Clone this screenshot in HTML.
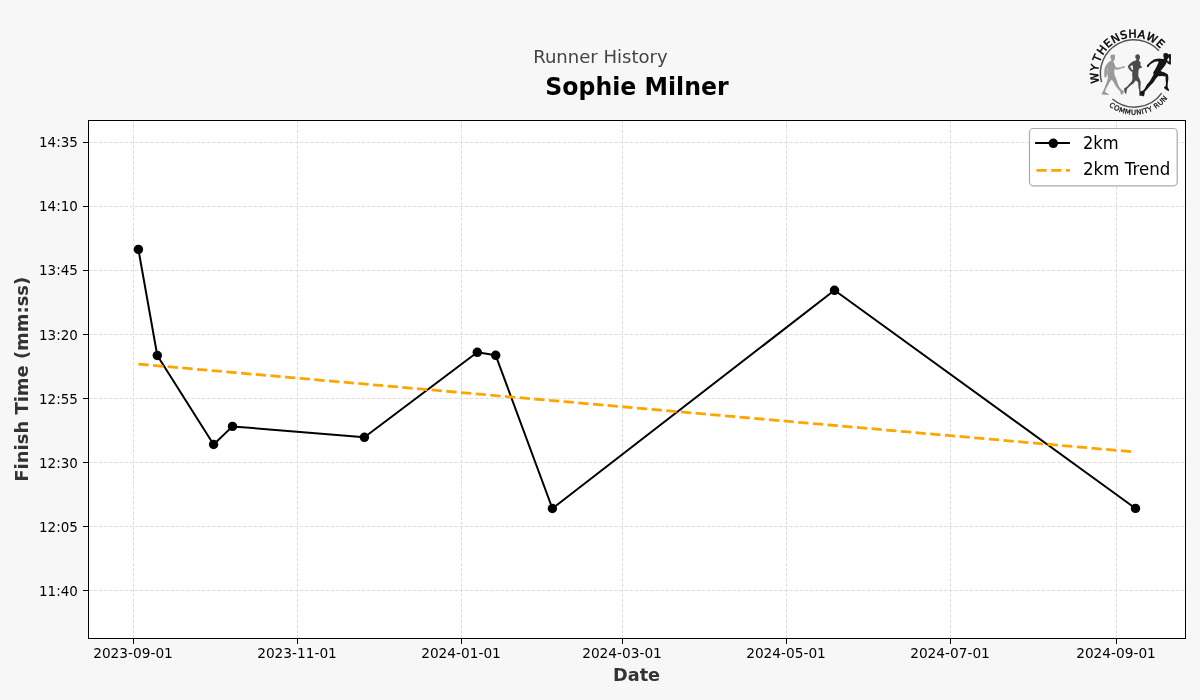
<!DOCTYPE html>
<html lang="en">
<head>
<meta charset="utf-8">
<title>Runner History - Sophie Milner</title>
<style>
html,body{margin:0;padding:0;background:#f7f7f7;}
body{width:1200px;height:700px;overflow:hidden;}
svg{display:block;}
text{font-family:"DejaVu Sans","Liberation Sans",sans-serif;}
.tick{font-size:13.89px;fill:#000;}
.b{font-weight:bold;}
</style>
</head>
<body>
<svg width="1200" height="700" viewBox="0 0 1200 700">
<rect x="0" y="0" width="1200" height="700" fill="#f7f7f7"/>
<rect x="88.5" y="120.5" width="1097.0" height="518.0" fill="#ffffff"/>
<g stroke="#dedede" stroke-width="1" stroke-dasharray="3.597 1.556" fill="none">
<line x1="133.5" y1="638.5" x2="133.5" y2="120.5"/>
<line x1="297.5" y1="638.5" x2="297.5" y2="120.5"/>
<line x1="461.5" y1="638.5" x2="461.5" y2="120.5"/>
<line x1="622.5" y1="638.5" x2="622.5" y2="120.5"/>
<line x1="786.5" y1="638.5" x2="786.5" y2="120.5"/>
<line x1="950.5" y1="638.5" x2="950.5" y2="120.5"/>
<line x1="1116.5" y1="638.5" x2="1116.5" y2="120.5"/>
<line x1="88.5" y1="142.5" x2="1185.5" y2="142.5"/>
<line x1="88.5" y1="206.5" x2="1185.5" y2="206.5"/>
<line x1="88.5" y1="270.5" x2="1185.5" y2="270.5"/>
<line x1="88.5" y1="334.5" x2="1185.5" y2="334.5"/>
<line x1="88.5" y1="398.5" x2="1185.5" y2="398.5"/>
<line x1="88.5" y1="462.5" x2="1185.5" y2="462.5"/>
<line x1="88.5" y1="526.5" x2="1185.5" y2="526.5"/>
<line x1="88.5" y1="590.5" x2="1185.5" y2="590.5"/>
</g>
<polyline fill="none" stroke="#000" stroke-width="2.0" stroke-linejoin="round" stroke-linecap="square" points="138.4,249.4 157.3,355.5 213.6,444.5 232.5,426.4 364.4,437.3 477.3,352.3 495.7,355.3 552.4,508.5 834.5,290.3 1135.5,508.4"/>
<g fill="#000">
<circle cx="138.4" cy="249.4" r="4.72"/>
<circle cx="157.3" cy="355.5" r="4.72"/>
<circle cx="213.6" cy="444.5" r="4.72"/>
<circle cx="232.5" cy="426.4" r="4.72"/>
<circle cx="364.4" cy="437.3" r="4.72"/>
<circle cx="477.3" cy="352.3" r="4.72"/>
<circle cx="495.7" cy="355.3" r="4.72"/>
<circle cx="552.4" cy="508.5" r="4.72"/>
<circle cx="834.5" cy="290.3" r="4.72"/>
<circle cx="1135.5" cy="508.4" r="4.72"/>
</g>
<line x1="138.4" y1="364.1" x2="1135.5" y2="452.0" stroke="#ffa500" stroke-width="2.78" stroke-dasharray="10.28 4.44"/>
<rect x="88.5" y="120.5" width="1097.0" height="518.0" fill="none" stroke="#000" stroke-width="1.1" shape-rendering="crispEdges"/>
<g stroke="#000" stroke-width="1.1" shape-rendering="crispEdges">
<line x1="133.5" y1="638.5" x2="133.5" y2="643.9"/>
<line x1="297.5" y1="638.5" x2="297.5" y2="643.9"/>
<line x1="461.5" y1="638.5" x2="461.5" y2="643.9"/>
<line x1="622.5" y1="638.5" x2="622.5" y2="643.9"/>
<line x1="786.5" y1="638.5" x2="786.5" y2="643.9"/>
<line x1="950.5" y1="638.5" x2="950.5" y2="643.9"/>
<line x1="1116.5" y1="638.5" x2="1116.5" y2="643.9"/>
<line x1="88.5" y1="142.5" x2="83.1" y2="142.5"/>
<line x1="88.5" y1="206.5" x2="83.1" y2="206.5"/>
<line x1="88.5" y1="270.5" x2="83.1" y2="270.5"/>
<line x1="88.5" y1="334.5" x2="83.1" y2="334.5"/>
<line x1="88.5" y1="398.5" x2="83.1" y2="398.5"/>
<line x1="88.5" y1="462.5" x2="83.1" y2="462.5"/>
<line x1="88.5" y1="526.5" x2="83.1" y2="526.5"/>
<line x1="88.5" y1="590.5" x2="83.1" y2="590.5"/>
</g>
<g class="tick">
<text transform="translate(133.0,657.8) scale(0.987,1)" text-anchor="middle">2023-09-01</text>
<text transform="translate(297.0,657.8) scale(0.987,1)" text-anchor="middle">2023-11-01</text>
<text transform="translate(461.0,657.8) scale(0.987,1)" text-anchor="middle">2024-01-01</text>
<text transform="translate(622.0,657.8) scale(0.987,1)" text-anchor="middle">2024-03-01</text>
<text transform="translate(786.0,657.8) scale(0.987,1)" text-anchor="middle">2024-05-01</text>
<text transform="translate(950.0,657.8) scale(0.987,1)" text-anchor="middle">2024-07-01</text>
<text transform="translate(1116.0,657.8) scale(0.987,1)" text-anchor="middle">2024-09-01</text>
<text transform="translate(77.9,147.0) scale(0.972,1)" text-anchor="end">14:35</text>
<text transform="translate(77.9,211.0) scale(0.972,1)" text-anchor="end">14:10</text>
<text transform="translate(77.9,275.0) scale(0.972,1)" text-anchor="end">13:45</text>
<text transform="translate(77.9,339.9) scale(0.972,1)" text-anchor="end">13:20</text>
<text transform="translate(77.9,403.9) scale(0.972,1)" text-anchor="end">12:55</text>
<text transform="translate(77.9,467.9) scale(0.972,1)" text-anchor="end">12:30</text>
<text transform="translate(77.9,531.9) scale(0.972,1)" text-anchor="end">12:05</text>
<text transform="translate(77.9,595.9) scale(0.972,1)" text-anchor="end">11:40</text>
</g>
<text transform="translate(636.6,680.8) scale(0.978,1)" text-anchor="middle" font-size="18.06" fill="#333333" class="b">Date</text>
<text transform="translate(28,379.2) rotate(-90) scale(0.994,1)" text-anchor="middle" font-size="18.06" fill="#333333" class="b">Finish Time (mm:ss)</text>
<text transform="translate(600.4,62.5)" text-anchor="middle" font-size="18.06" fill="#444444">Runner History</text>
<text transform="translate(637,94.7) scale(1,1.065)" text-anchor="middle" font-size="23.61" fill="#000" class="b">Sophie Milner</text>
<rect x="1029.5" y="128.5" width="147.7" height="57.3" rx="3.8" ry="3.8" fill="#ffffff" stroke="#aaaaaa" stroke-width="1.2"/>
<line x1="1036.05" y1="143.0" x2="1068.95" y2="143.0" stroke="#000" stroke-width="2.0" stroke-linecap="square"/>
<circle cx="1053.3" cy="143.3" r="4.72" fill="#000"/>
<line x1="1036.4" y1="170.4" x2="1069.9" y2="170.4" stroke="#ffa500" stroke-width="2.78" stroke-dasharray="10.28 4.44"/>
<text transform="translate(1082.9,148.8) scale(0.98,1.1)" font-size="16.67" fill="#000">2km</text>
<text transform="translate(1082.9,174.9) scale(1,1.1)" font-size="16.67" fill="#000">2km Trend</text>
<g id="logo">
<path d="M1101.59,82.17 A33.6,33.6 0 0 1 1158.93,50.77" fill="none" stroke="#525252" stroke-width="1.5"/>
<path d="M1112.43,98.99 A33.7,33.7 0 0 0 1161.69,93.11" fill="none" stroke="#525252" stroke-width="1.5"/>
<path id="lgTop" d="M1099.44,82.82 A35.85,35.85 0 0 1 1167.69,61.04" fill="none"/>
<path id="lgBot" d="M1108.87,106.02 A41.4,41.4 0 0 0 1175.13,80.59" fill="none"/>
<text font-family="'Liberation Sans','DejaVu Sans',sans-serif" font-size="11.0" letter-spacing="0.48" fill="#000" stroke="#000" stroke-width="0.45" style="font-kerning:none" dx="0 0.15 1.5 0.5 0 0 0 0 0 0 -0.2"><textPath href="#lgTop">WYTHENSHAWE</textPath></text>
<text font-family="'Liberation Sans','DejaVu Sans',sans-serif" font-size="6.9" letter-spacing="0.47" fill="#141414" stroke="#141414" stroke-width="0.3"><textPath href="#lgBot">COMMUNITY RUN</textPath></text>
<path d="M1111.14,60.74 L1109.26,61.60 L1106.86,64.00 L1105.14,66.74 L1104.29,70.51 L1104.29,74.63 L1104.27,74.00 L1104.17,75.71 L1104.86,77.43 L1106.23,77.43 L1106.74,76.06 L1106.23,75.20 L1106.98,74.69 L1108.04,75.99 L1107.94,78.11 L1106.57,82.57 L1104.86,87.03 L1103.14,91.14 L1101.94,92.68 L1101.77,94.57 L1108.63,94.91 L1108.80,94.23 L1106.23,92.68 L1105.03,91.48 L1106.23,88.40 L1108.28,84.63 L1110.00,81.54 L1111.54,79.83 L1113.08,81.20 L1115.14,85.31 L1117.54,88.40 L1120.28,91.48 L1120.63,93.54 L1121.65,94.91 L1123.03,93.54 L1124.05,91.83 L1123.37,90.80 L1121.65,90.11 L1119.25,87.03 L1117.54,82.91 L1116.17,78.46 L1114.80,75.71 L1114.46,74.00 L1114.23,71.20 L1114.74,68.80 L1116.11,69.66 L1118.51,69.48 L1121.25,68.46 L1123.31,68.11 L1124.85,67.60 L1124.68,66.40 L1123.31,66.06 L1121.94,67.08 L1119.20,67.60 L1116.11,67.43 L1115.08,65.71 L1113.71,62.28 L1113.20,61.26 L1114.06,60.40 L1114.91,58.86 L1115.08,56.11 L1114.91,54.67 L1113.03,54.47 L1110.97,54.91 L1110.28,56.46 L1110.63,58.51 L1111.48,59.88 Z" fill="#9a9a9a"/>
<path d="M1107.75,67.60 L1107.40,72.57 L1107.27,76.00" fill="none" stroke="#c6c6c6" stroke-width="0.55"/>
<path d="M1136.23,60.23 L1133.31,61.26 L1130.91,62.63 L1128.68,65.03 L1127.83,66.40 L1128.34,68.11 L1129.88,70.17 L1131.60,71.71 L1132.28,71.54 L1132.17,75.99 L1132.51,76.74 L1132.34,79.14 L1131.66,81.54 L1129.26,83.94 L1126.86,86.68 L1124.29,88.23 L1124.11,89.43 L1124.46,91.83 L1125.49,93.88 L1126.34,93.20 L1126.68,90.46 L1127.20,88.74 L1130.28,85.66 L1133.71,83.26 L1135.43,80.86 L1136.46,80.68 L1138.17,82.57 L1138.34,86.68 L1139.20,90.46 L1139.20,95.25 L1139.88,95.94 L1141.94,95.94 L1140.57,91.14 L1140.40,87.03 L1140.74,82.23 L1139.88,79.49 L1138.68,77.09 L1138.34,75.99 L1138.46,71.20 L1139.14,68.46 L1140.51,68.28 L1141.88,67.60 L1141.71,66.40 L1140.34,65.37 L1140.68,62.97 L1139.83,61.60 L1138.80,60.40 L1139.48,59.37 L1140.00,57.83 L1139.83,55.77 L1138.80,54.40 L1137.43,54.13 L1135.88,54.91 L1135.20,56.11 L1135.54,58.17 L1136.40,59.37 Z M1132.28,65.20 L1130.06,66.57 L1132.11,70.00 L1133.04,69.66 L1132.90,65.71 Z" fill="#4c4c4c" fill-rule="evenodd"/>
<path d="M1163.31,55.14 L1163.65,53.60 L1165.71,53.09 L1167.77,53.43 L1168.32,54.73 L1169.00,54.11 L1170.85,54.05 L1171.03,56.86 L1170.85,61.31 L1171.03,64.40 L1169.48,64.57 L1167.43,63.37 L1166.91,61.93 L1165.20,65.26 L1162.45,68.68 L1160.57,70.91 L1161.60,71.60 L1165.20,72.80 L1168.00,74.40 L1168.40,78.80 L1167.80,83.20 L1167.60,86.80 L1168.80,89.60 L1169.20,91.20 L1167.20,90.40 L1164.40,88.40 L1164.00,87.20 L1165.60,86.00 L1166.00,83.60 L1165.60,79.60 L1165.60,76.40 L1162.00,76.00 L1158.00,76.20 L1156.00,78.60 L1153.40,82.40 L1150.60,85.20 L1147.80,88.40 L1144.80,91.80 L1144.40,94.80 L1143.60,96.40 L1141.60,95.60 L1140.00,94.00 L1140.40,91.20 L1143.20,90.40 L1144.80,88.40 L1146.80,84.80 L1149.60,81.60 L1151.60,78.00 L1153.60,74.40 L1153.20,72.40 L1154.80,70.00 L1157.14,65.43 L1158.68,62.00 L1157.83,61.31 L1154.74,61.66 L1152.00,63.20 L1149.60,65.08 L1149.08,66.46 L1147.88,67.31 L1146.86,66.46 L1147.03,65.08 L1148.57,63.71 L1151.31,61.31 L1154.40,59.26 L1159.20,58.40 L1162.63,58.91 L1164.00,58.91 L1163.65,57.54 Z M1167.15,59.53 L1169.07,57.37 L1169.24,61.14 L1167.84,61.52 Z" fill="#151515" fill-rule="evenodd"/>
</g>
</svg>
</body>
</html>
